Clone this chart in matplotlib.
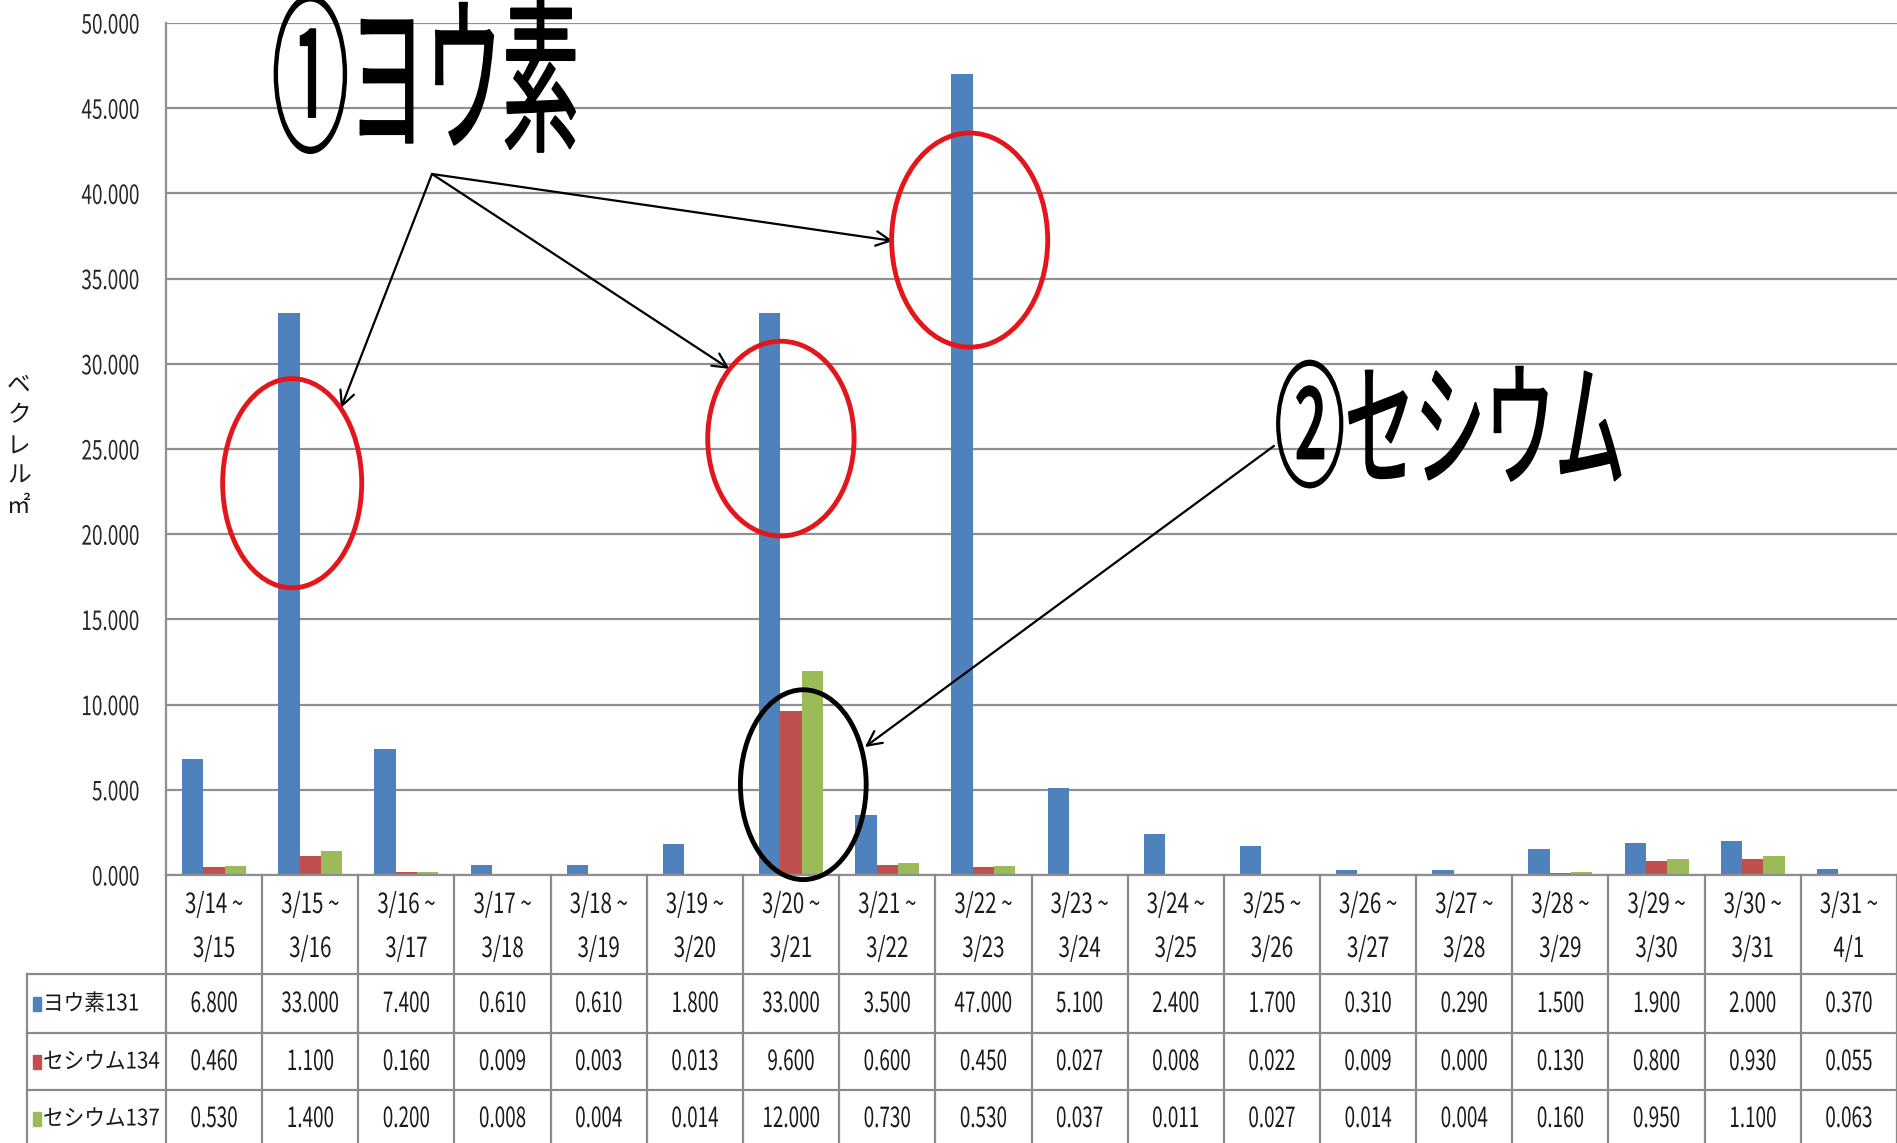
import matplotlib
matplotlib.use("Agg")
import matplotlib.pyplot as plt
from matplotlib.patches import Ellipse, Rectangle
from matplotlib.lines import Line2D
from matplotlib.patheffects import AbstractPathEffect
from matplotlib.transforms import Affine2D, blended_transform_factory

plt.rcParams['font.family'] = ['Noto Sans CJK JP', 'DejaVu Sans']

# ---------------- data ----------------
period_start = ["3/14", "3/15", "3/16", "3/17", "3/18", "3/19", "3/20", "3/21", "3/22",
                "3/23", "3/24", "3/25", "3/26", "3/27", "3/28", "3/29", "3/30", "3/31"]
period_end = ["3/15", "3/16", "3/17", "3/18", "3/19", "3/20", "3/21", "3/22", "3/23",
              "3/24", "3/25", "3/26", "3/27", "3/28", "3/29", "3/30", "3/31", "4/1"]
iodine131 = [6.8, 33.0, 7.4, 0.61, 0.61, 1.8, 33.0, 3.5, 47.0,
             5.1, 2.4, 1.7, 0.31, 0.29, 1.5, 1.9, 2.0, 0.37]
cesium134 = [0.46, 1.1, 0.16, 0.009, 0.003, 0.013, 9.6, 0.6, 0.45,
             0.027, 0.008, 0.022, 0.009, 0.0, 0.13, 0.8, 0.93, 0.055]
cesium137 = [0.53, 1.4, 0.2, 0.008, 0.004, 0.014, 12.0, 0.73, 0.53,
             0.037, 0.011, 0.027, 0.014, 0.004, 0.16, 0.95, 1.1, 0.063]
series_names = ["ヨウ素131", "セシウム134", "セシウム137"]
series_colors = ["#4F81BD", "#C0504D", "#9BBB59"]
y_ticks = [0, 5, 10, 15, 20, 25, 30, 35, 40, 45, 50]
y_label = "ベクレル㎡"
note1 = "①ヨウ素"
note2 = "②セシウム"


class Squeeze(AbstractPathEffect):
    """Horizontally condense glyphs (the reference uses a narrow font)."""
    def __init__(self, sx=0.7, anchor="center", stroke=0.0):
        super().__init__()
        self.sx = sx
        self.anchor = anchor
        self.stroke = stroke

    def draw_path(self, renderer, gc, tpath, affine, rgbFace=None):
        ext = tpath.get_extents()
        if self.anchor == "left":
            x0 = 0.0
        elif self.anchor == "right":
            x0 = ext.x1
        else:
            x0 = (ext.x0 + ext.x1) / 2
        t = Affine2D().translate(-x0, 0).scale(self.sx, 1).translate(x0, 0)
        if self.stroke:
            gc0 = renderer.new_gc()
            gc0.copy_properties(gc)
            gc0.set_linewidth(self.stroke)
            gc0.set_joinstyle("round")
            renderer.draw_path(gc0, tpath, t + affine, rgbFace)
            gc0.restore()
        else:
            renderer.draw_path(gc, tpath, t + affine, rgbFace)


W, H = 1897, 1143
fig = plt.figure(figsize=(W / 100, H / 100), dpi=100)
fig.patch.set_facecolor("white")

ax_left, ax_bottom_px, ax_top_px = 166, 875, 23
ax = fig.add_axes([ax_left / W, 1 - ax_bottom_px / H, (W - ax_left) / W,
                   (ax_bottom_px - ax_top_px) / H])

n = len(period_start)
xs = list(range(n))
bw = 0.222
for k, (vals, col) in enumerate(zip([iodine131, cesium134, cesium137], series_colors)):
    ax.bar([x + (k - 1) * bw for x in xs], vals, bw, color=col, zorder=2)

ax.set_xlim(-0.5, n - 0.5)
ax.set_ylim(0, 50)
ax.set_xticks([])
ax.set_yticks(y_ticks, [f"{v:.3f}" for v in y_ticks])
ax.tick_params(axis="y", length=0, pad=19, labelsize=19, labelcolor="#262626")
for t in ax.get_yticklabels():
    t.set_path_effects([Squeeze(0.72, "right")])
ax.yaxis.grid(True, color="#8f8f8f", lw=1.6)
ax.set_axisbelow(True)
for s in ["top", "right"]:
    ax.spines[s].set_visible(False)
for s in ["left", "bottom"]:
    ax.spines[s].set_color("#8f8f8f")
    ax.spines[s].set_linewidth(1.6)

# ---------------- data table under the chart ----------------
def fy(py):
    return 1 - py / H

T = blended_transform_factory(ax.transData, fig.transFigure)
line_col = "#8a8a8a"
row_lines = [974, 1033, 1090]
row_centers = [1004, 1062, 1119]

for k in range(n + 1):
    fig.add_artist(Line2D([k - 0.5, k - 0.5], [fy(875), fy(1150)], transform=T,
                          color=line_col, lw=1.6))
for py in row_lines:
    fig.add_artist(Line2D([27 / W, 1], [fy(py), fy(py)], transform=fig.transFigure,
                          color=line_col, lw=1.6))
fig.add_artist(Line2D([27 / W, 27 / W], [fy(974), fy(1150)], transform=fig.transFigure,
                      color=line_col, lw=1.6))

txt_col = "#1a1a1a"
for i in xs:
    ax.text(i, fy(905), f"{period_start[i]} ~", transform=T, ha="center", va="center",
            fontsize=20, color=txt_col, path_effects=[Squeeze(0.74)])
    ax.text(i, fy(949), period_end[i], transform=T, ha="center", va="center",
            fontsize=20, color=txt_col, path_effects=[Squeeze(0.74)])

for r, vals in enumerate([iodine131, cesium134, cesium137]):
    for i in xs:
        ax.text(i, fy(row_centers[r]), f"{vals[i]:.3f}", transform=T, ha="center",
                va="center", fontsize=20, color=txt_col, path_effects=[Squeeze(0.68)])
    fig.add_artist(Rectangle((33 / W, fy(row_centers[r] + 7)), 8 / W, 14 / H,
                             transform=fig.transFigure, color=series_colors[r]))
    fig.text(43 / W, fy(row_centers[r]), series_names[r], ha="left", va="center",
             fontsize=16.5, color=txt_col, path_effects=[Squeeze(0.9, "left")])

# y label (stacked vertical text)
fig.text(19 / W, fy(446), "\n".join(y_label), ha="center", va="center",
         fontsize=17, color="#1a1a1a", linespacing=1.4)

# ---------------- annotations ----------------
ellipses = [((0.812, 22.99), 1.446, 12.28, "#E3161B"),
            ((5.894, 25.61), 1.522, 11.43, "#E3161B"),
            ((7.857, 37.26), 1.623, 12.57, "#E3161B"),
            ((6.127, 5.30), 1.308, 11.14, "black")]
for (c, w, h, col) in ellipses:
    ax.add_patch(Ellipse(c, w, h, fill=False, ec=col, lw=3.5, clip_on=False, zorder=5))

arrow_kw = dict(arrowstyle="->", color="black", lw=1.6, shrinkA=0, shrinkB=0,
                mutation_scale=26)
origin = (2.266, 41.14)
for tgt in [(1.320, 27.41), (5.359, 29.70), (7.060, 37.21)]:
    ax.annotate("", xy=tgt, xytext=origin, arrowprops=arrow_kw, annotation_clip=False)
ax.annotate("", xy=(6.768, 7.51), xytext=(11.021, 25.18), arrowprops=arrow_kw,
            annotation_clip=False)

fig.text(272 / W, fy(90), note1, ha="left", va="center", fontsize=122,
         fontweight="normal", color="black",
         path_effects=[Squeeze(0.453, "left", stroke=1.4)])
fig.text(1451 / W, fy(437), note2, ha="center", va="center", fontsize=98,
         fontweight="normal", color="black",
         path_effects=[Squeeze(0.515, "center", stroke=1.4)])

fig.savefig("out.png", dpi=100, facecolor="white")
